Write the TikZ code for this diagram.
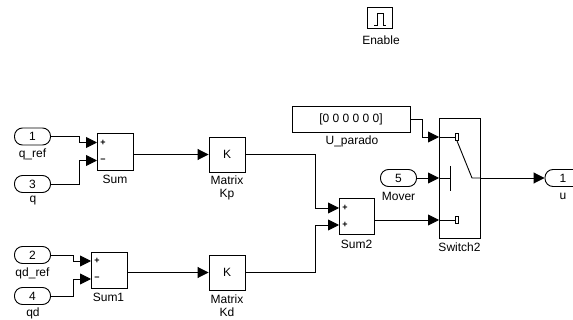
\documentclass[tikz,border=0pt]{standalone}
\usepackage{fontspec}
\setmainfont{Liberation Sans}
\usetikzlibrary{arrows.meta}
\tikzset{
  blockbox/.style={draw=black,line width=0.9pt,fill=white,inner sep=0pt,font=\fontsize{12}{14}\selectfont},
  portbox/.style={blockbox,rounded corners=8pt,minimum width=36pt,minimum height=17pt},
  lbl/.style={inner sep=0pt,align=center,font=\fontsize{12}{12.5}\selectfont},
  sgn/.style={inner sep=0pt,font=\fontsize{9}{9}\selectfont\bfseries},
  wire/.style={draw=black,line width=0.9pt,-{Triangle[length=11pt,width=11pt]}},
  plainline/.style={draw=black,line width=0.9pt},
  contact/.style={draw=black,fill=white,line width=0.8pt,minimum width=2.5pt,minimum height=7pt,inner sep=0pt}
}
\begin{document}
\begin{tikzpicture}[x=1pt,y=1pt]
\useasboundingbox (0,0) rectangle (573,-320);
\begin{scope}
\clip (0,0) rectangle (573,-320);
% Enable
\node[blockbox,minimum width=25pt,minimum height=21pt] (en) at (379.5,-17.5) {};
\draw[plainline] (374,-25) -- (377,-25) -- (377,-13) -- (383,-13) -- (383,-25) -- (386,-25);
\node[lbl] (enl) at (381,-40) {Enable};
% Inports
\node[portbox] (p1) at (32.5,-136.5) {1};
\node[lbl] (p1l) at (32.5,-154.5) {q\_ref};
\node[portbox] (p3) at (32.5,-184) {3};
\node[lbl] (p3l) at (33,-201) {q};
\node[portbox] (p2) at (32.5,-255) {2};
\node[lbl] (p2l) at (32.5,-273) {qd\_ref};
\node[portbox] (p4) at (32.5,-296) {4};
\node[lbl] (p4l) at (33,-313) {qd};
\node[portbox] (p5) at (398.5,-178) {5};
\node[lbl] (p5l) at (398.5,-196) {Mover};
\node[portbox] (out) at (563,-178) {1};
\node[lbl] (outl) at (563,-196) {u};
% Sum blocks
\node[blockbox,minimum width=36pt,minimum height=37pt] (sum) at (115,-151.5) {};
\node[lbl] (suml) at (115,-179) {Sum};
\node[blockbox,minimum width=36pt,minimum height=36pt] (sum1) at (109,-270) {};
\node[lbl] (sum1l) at (108.5,-297) {Sum1};
\node[blockbox,minimum width=35pt,minimum height=36pt] (sum2) at (356.5,-216) {};
\node[lbl] (sum2l) at (356.5,-244) {Sum2};
\node[sgn] at (103,-143) {+};
\node[sgn] at (103,-160.5) {\textminus};
\node[sgn] at (97,-261) {+};
\node[sgn] at (97,-278.5) {\textminus};
\node[sgn] at (345,-208) {+};
\node[sgn] at (345,-225) {+};
% Gains
\node[blockbox,minimum width=36pt,minimum height=35pt] (kp) at (227,-154.5) {K};
\node[lbl] (kpl) at (227,-188) {Matrix\\Kp};
\node[blockbox,minimum width=36pt,minimum height=35pt] (kd) at (227,-272.5) {K};
\node[lbl] (kdl) at (227,-305.5) {Matrix\\Kd};
% Constant
\node[blockbox,minimum width=118pt,minimum height=26pt] (c) at (351,-119) {[0 0 0 0 0 0]};
\node[lbl] (cl) at (352,-141) {U\_parado};
% Switch
\node[blockbox,minimum width=41pt,minimum height=120pt] (sw) at (459.5,-178) {};
\node[lbl] (swl) at (459.5,-247) {Switch2};
\coordinate (swa) at (439,-137);
\coordinate (swb) at (439,-178);
\coordinate (swc) at (439,-220);
\coordinate (swo) at (480,-178);
\node[contact] (ca) at (457,-137) {};
\node[contact] (cc) at (457,-220) {};
\coordinate (pivot) at (472,-178);
\coordinate (bar) at (450,-178);
\draw[plainline] (swa) -- (ca.west);
\draw[plainline] (swc) -- (cc.west);
\draw[plainline] (swb) -- (bar);
\draw[plainline] (450,-166) -- (450,-191);
\draw[plainline] (ca.south) -- (pivot) -- (swo);
% Sum input ports
\coordinate (sa) at (97,-142.5);
\coordinate (sb) at (97,-160.5);
\coordinate (sc) at (91,-261);
\coordinate (sd) at (91,-279);
\coordinate (se) at (339,-208);
\coordinate (sf) at (339,-225);
\coordinate (so) at (133,-154.5);
\coordinate (s1o) at (127,-272.5);
\coordinate (s2o) at (374,-220);
% Wires
\draw[wire] (p1.east) -- (79,-136.5) -- (79,-142.5) -- (sa);
\draw[wire] (p3.east) -- (79,-184) -- (79,-160.5) -- (sb);
\draw[wire] (p2.east) -- (73,-255) -- (73,-261) -- (sc);
\draw[wire] (p4.east) -- (73,-296) -- (73,-279) -- (sd);
\draw[wire] (so) -- (kp.west);
\draw[wire] (s1o) -- (kd.west);
\draw[wire] (kp.east) -- (315,-154.5) -- (315,-208) -- (se);
\draw[wire] (kd.east) -- (315,-272.5) -- (315,-225) -- (sf);
\draw[wire] (s2o) -- (swc);
\draw[wire] (c.east) -- (422,-119) -- (422,-137) -- (swa);
\draw[wire] (p5.east) -- (swb);
\draw[wire] (swo) -- (out.west);
\end{scope}
\end{tikzpicture}
\end{document}
